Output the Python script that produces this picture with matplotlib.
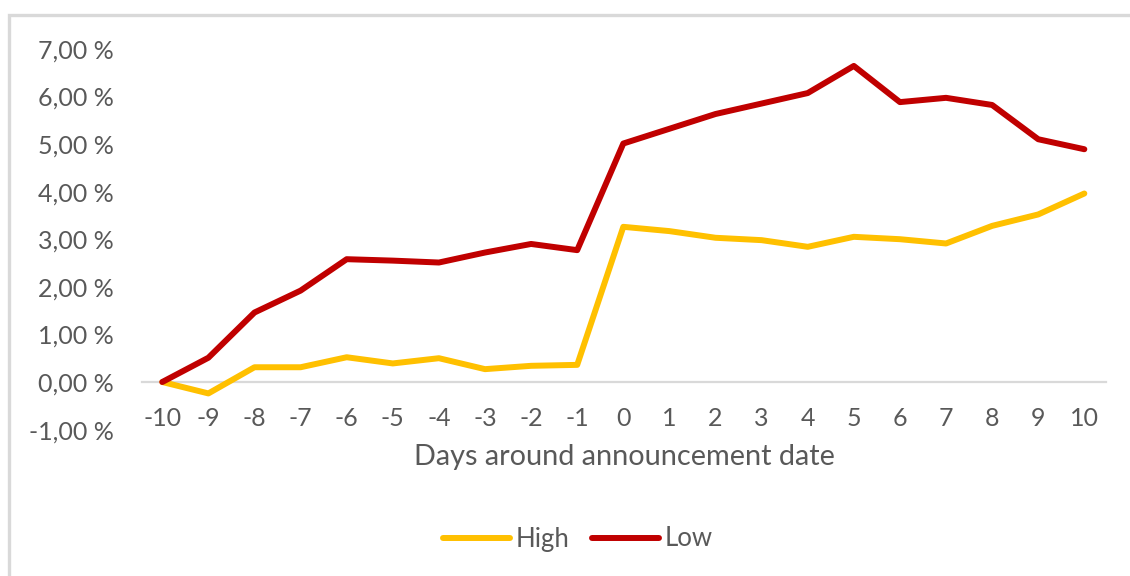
import numpy as np
from matplotlib import pyplot as plt
from matplotlib.patches import Rectangle
from matplotlib.ticker import FuncFormatter

days = list(range(-10, 11))

# cumulative abnormal returns in percent
high = [0.00, -0.24, 0.31, 0.31, 0.52, 0.39, 0.50, 0.27, 0.34, 0.36,
        3.26, 3.17, 3.03, 2.98, 2.84, 3.05, 3.00, 2.91, 3.28, 3.52, 3.96]
low = [0.00, 0.51, 1.46, 1.92, 2.58, 2.55, 2.51, 2.72, 2.90, 2.77,
       5.01, 5.32, 5.63, 5.85, 6.07, 6.64, 5.88, 5.97, 5.82, 5.10, 4.89]

series_names = ["High", "Low"]
y_ticks = [-1, 0, 1, 2, 3, 4, 5, 6, 7]

TEXT_COLOR = "#595959"
GRID_COLOR = "#d9d9d9"
W, H = 1130, 576


def pct_label(v, pos):
    return "{:.2f} %".format(v).replace(".", ",")


def draw_chart():
    plt.rcParams["font.family"] = ["Lato", "DejaVu Sans"]
    fig = plt.figure(figsize=(W / 100, H / 100), dpi=100)

    left, right = 142, 1106
    top, bottom = 48.8, 429.6
    ax = fig.add_axes([left / W, 1 - bottom / H, (right - left) / W, (bottom - top) / H])

    ax.plot(days, high, color="#FFC000", lw=4.3, solid_capstyle="round",
            solid_joinstyle="round", label=series_names[0], zorder=3)
    ax.plot(days, low, color="#C00000", lw=4.3, solid_capstyle="round",
            solid_joinstyle="round", label=series_names[1], zorder=3)

    ax.set_xlim(-10.44, 10.47)
    ax.set_ylim(-1, 7)

    for side in ["top", "right", "left"]:
        ax.spines[side].set_visible(False)
    ax.spines["bottom"].set_position(("data", 0))
    ax.spines["bottom"].set_color(GRID_COLOR)
    ax.spines["bottom"].set_linewidth(1.6)

    ax.set_xticks(days)
    ax.set_xticklabels([str(d) for d in days])
    ax.set_yticks(y_ticks)
    ax.yaxis.set_major_formatter(FuncFormatter(pct_label))
    ax.tick_params(axis="x", length=0, pad=18, labelsize=18, labelcolor=TEXT_COLOR)
    ax.tick_params(axis="y", length=0, pad=20, labelsize=18, labelcolor=TEXT_COLOR)

    fig.text(624 / W, 1 - 457 / H, "Days around announcement date",
             ha="center", va="center", fontsize=20.8, color=TEXT_COLOR)

    leg = fig.legend(loc="center", bbox_to_anchor=(578 / W, 1 - 539 / H), ncol=2,
                     frameon=False, fontsize=18.5, handlelength=2.6,
                     handletextpad=0.2, columnspacing=0.9)
    for t in leg.get_texts():
        t.set_color(TEXT_COLOR)

    # chart area border, only its top and left edges are inside the image
    fig.add_artist(Rectangle((8.5 / W, -0.1), 2, 1.1 - 14.5 / H,
                             transform=fig.transFigure, fill=False,
                             edgecolor=GRID_COLOR, lw=2.4))

    fig.savefig("out.png", dpi=100)


if __name__ == "__main__":
    draw_chart()
